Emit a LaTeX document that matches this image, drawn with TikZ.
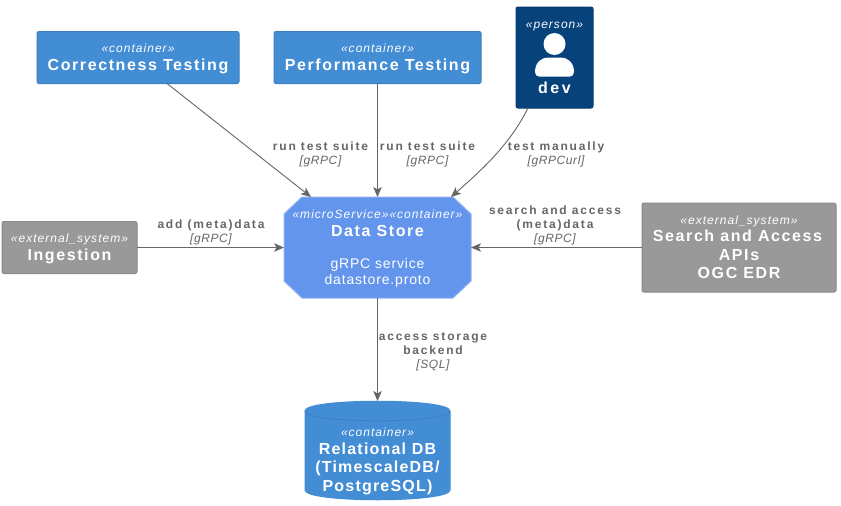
\documentclass[tikz,border=0pt]{standalone}
\usepackage{fontspec}
\setmainfont{Liberation Sans}
\newfontfamily\titlefont[LetterSpace=10]{Liberation Sans Bold}
\newfontfamily\titlefontb[LetterSpace=7.5]{Liberation Sans Bold}
\newfontfamily\labelfont[LetterSpace=15]{Liberation Sans Bold}
\newfontfamily\stfont[LetterSpace=8.5]{Liberation Sans Italic}
\newfontfamily\techfont[LetterSpace=5]{Liberation Sans Italic}
\newfontfamily\bodyfont[LetterSpace=6]{Liberation Sans}
\newcommand{\stereo}[1]{{\rule[-3pt]{0pt}{15pt}\stfont\fontsize{12}{14}\selectfont #1}}
\newcommand{\ttl}[1]{{\rule[-4pt]{0pt}{18.5pt}\titlefont\fontsize{16}{19}\selectfont #1}}
\newcommand{\ttlb}[1]{{\rule[-4pt]{0pt}{18.5pt}\titlefontb\fontsize{16}{19}\selectfont #1}}
\newcommand{\bodyline}[1]{{\rule[-3pt]{0pt}{16pt}\bodyfont\fontsize{14}{16}\selectfont #1}}
\newcommand{\gapline}{\rule{0pt}{15.5pt}}
\newcommand{\lab}[1]{{\rule[-3.5pt]{0pt}{14pt}\labelfont\fontsize{12}{14}\selectfont #1}}
\newcommand{\tech}[1]{{\rule[-3.5pt]{0pt}{14pt}\techfont\fontsize{12}{14}\selectfont #1}}
\usetikzlibrary{arrows.meta,calc}
\definecolor{containerblue}{HTML}{438DD5}
\definecolor{containeredge}{HTML}{3C7FC0}
\definecolor{personblue}{HTML}{08427B}
\definecolor{personedge}{HTML}{073B6F}
\definecolor{extgray}{HTML}{999999}
\definecolor{extedge}{HTML}{8A8A8A}
\definecolor{msblue}{HTML}{6495ED}
\definecolor{msedge}{HTML}{8FB3F2}
\definecolor{labelgray}{HTML}{666666}
\tikzset{
  boxnode/.style={rectangle,rounded corners=2pt,line width=1pt,text=white,align=center,inner sep=0pt,outer sep=0pt,font=\offinterlineskip},
  cont/.style={boxnode,fill=containerblue,draw=containeredge},
  ext/.style={boxnode,fill=extgray,draw=extedge},
  pers/.style={boxnode,fill=personblue,draw=personedge},
  plain/.style={inner sep=0pt,outer sep=0pt,align=center,text=white,font=\offinterlineskip},
  lbl/.style={inner sep=0pt,outer sep=0pt,align=center,text=labelgray,font=\offinterlineskip},
  conn/.style={draw=labelgray,line width=0.9pt,-{Stealth[length=10pt,width=8.5pt,inset=2.5pt]}}
}
\begin{document}
\begin{tikzpicture}[x=1pt,y=-1pt]
\useasboundingbox (0,0) rectangle (841,506);
\fill[white] (0,0) rectangle (841,506);

% boxes
\node[cont,minimum width=202pt,minimum height=52pt] (corr) at (138,57.5) {\stereo{«container»}\\\ttl{Correctness Testing}};
\node[cont,minimum width=207pt,minimum height=52pt] (perf) at (377.5,57.5) {\stereo{«container»}\\\ttl{Performance Testing}};
\node[pers,minimum width=77pt,minimum height=101pt] (dev) at (554.5,57.5) {};
\node[ext,minimum width=135pt,minimum height=52pt] (ing) at (69.5,247.5) {\stereo{«external\_system»}\\\ttl{Ingestion}};
\node[ext,minimum width=194pt,minimum height=89pt] (srch) at (739,247.5) {\stereo{«external\_system»}\\\ttl{Search and Access\kern3pt}\\\ttl{APIs}\\\ttl{OGC EDR}};

% person content
\node[plain] (devst) at (554.5,24) {\stereo{«person»}};
\fill[white] (554.5,44) circle (11);
\fill[white] (535,72) .. controls (535,62) and (542,57.5) .. (548,57.5) -- (561,57.5) .. controls (567,57.5) and (574,62) .. (574,72) .. controls (574,75) and (572,76.5) .. (570,76.5) -- (539,76.5) .. controls (537,76.5) and (535,75) .. (535,72) -- cycle;
\node[plain] (devname) at (554.5,88.5) {\ttl{d\kern2.5pt e\kern2.5pt v}};

% microservice octagon
\node[inner sep=0pt,outer sep=0pt,minimum width=187pt,minimum height=101pt] (ds) at (377.5,247.5) {};
\path[fill=msblue,draw=msedge,line width=1pt] (302,197) -- (453,197) -- (471,214) -- (471,281) -- (453,298) -- (302,298) -- (284,281) -- (284,214) -- cycle;
\node[plain] (dstext) at (377.5,247) {\stereo{«microService»«container»}\\\ttl{Data Store}\\\gapline\\\bodyline{gRPC service}\\\bodyline{datastore.proto}};

% database cylinder
\node[inner sep=0pt,outer sep=0pt,minimum width=145pt,minimum height=99pt] (db) at (377.5,450.5) {};
\path[fill=containerblue,draw=containerblue,line width=1pt] (305,411) .. controls (305,398) and (450,398) .. (450,411) -- (450,490) .. controls (450,503) and (305,503) .. (305,490) -- cycle;
\draw[containeredge,line width=.7pt] (305,411) .. controls (305,424) and (450,424) .. (450,411);
\node[plain] (dbtext) at (377.5,460) {\stereo{«container»}\\\ttlb{Relational DB}\\\ttlb{(TimescaleDB/}\\\ttlb{PostgreSQL)}};

% connectors
\draw[conn] ([xshift=130pt]corr.south west) -- ([xshift=27pt]ds.north west);
\draw[conn] (perf.south) -- (perf.south |- ds.north);
\draw[conn] ([xshift=12pt]dev.south west) .. controls +(-18,36) and +(32,-28) .. ([xshift=-20pt]ds.north east);
\draw[conn] (ing.east) -- (ds.west);
\draw[conn] (srch.west) -- (ds.east);
\draw[conn] (ds.south) -- (db.north);

% labels
\node[lbl] (l1) at (320.5,154) {\lab{run test suite}\\\tech{[gRPC]}};
\node[lbl] (l2) at (427.5,154) {\lab{run test suite}\\\tech{[gRPC]}};
\node[lbl] (l3) at (556,154) {\lab{test manually}\\\tech{[gRPCurl]}};
\node[lbl] (l4) at (211,232) {\lab{add (meta)data}\\\tech{[gRPC]}};
\node[lbl] (l5) at (555,225) {\lab{search and access}\\\lab{(meta)data}\\\tech{[gRPC]}};
\node[lbl] (l6) at (433,351) {\lab{access storage}\\\lab{backend}\\\tech{[SQL]}};
\end{tikzpicture}
\end{document}
